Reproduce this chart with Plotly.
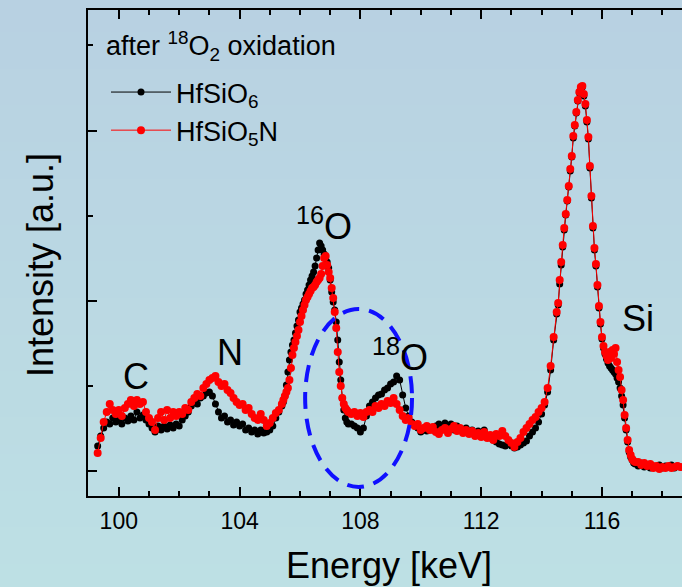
import base64
import struct
import zlib

import numpy as np
import plotly.graph_objects as go

# ---------------- data (energy in keV, intensity in arbitrary counts) ----------------
# energy grid is described per segment: (first energy, step); finer steps on steep peaks
seg_start = [99.3, 105.45, 107.7, 114.55, 117.2]
seg_step = [0.1, 0.05, 0.1, 0.05, 0.1]

# HfSiO6 (black)
hfsio6_s1 = [294, 411, 505, 576, 552, 623, 576, 599, 552, 623,
             588, 646, 599, 693, 623, 658, 599, 552, 505, 458,
             529, 482, 529, 494, 541, 505, 552, 529, 599, 646,
             693, 764, 811, 787, 858, 881, 917, 928, 881, 787,
             693, 623, 646, 576, 599, 541, 576, 529, 552, 482,
             505, 458, 482, 435, 482, 447, 458, 482, 529, 623,
             693, 764]
hfsio6_s2 = [811, 881, 1011, 1163, 1304, 1398, 1481, 1539, 1622, 1704,
             1774, 1868, 1915, 1962, 2009, 2080, 2127, 2186, 2244, 2291,
             2338, 2409, 2503, 2597, 2679, 2644, 2597, 2550, 2503, 2456,
             2385, 2244, 2103, 1986, 1892, 1751, 1539, 1281, 1069, 858,
             717, 623, 576, 552]
hfsio6_s3 = [552, 529, 505, 458, 505, 646, 764, 811, 858, 893,
             905, 952, 975, 1022, 1046, 1116, 1069, 893, 740, 646,
             576, 529, 505, 458, 505, 470, 505, 482, 529, 552,
             529, 564, 505, 552, 482, 529, 482, 458, 505, 458,
             482, 435, 470, 423, 482, 411, 388, 364, 341, 317,
             306, 294, 317, 294, 270, 282, 306, 329, 352, 411,
             458, 505, 576, 670, 776, 928, 1187, 1539, 1845]
hfsio6_s4 = [1951, 2197, 2421, 2632, 2832, 3008, 3173, 3337, 3525, 3690,
             3913, 4054, 4207, 4348, 4442, 4500, 4512, 4406, 4289, 4101,
             3901, 3560, 3208, 2855, 2597, 2409, 2162, 1915, 1727, 1551,
             1445, 1375, 1316, 1269, 1234, 1210, 1187, 1163, 1140, 1093,
             1046, 975, 881, 776, 623, 482, 341, 223, 165, 129,
             94, 82]
hfsio6_s5 = [59, 94, 47, 70, 35, 59, 47, 70, 35, 59, 47, 70, 35, 59, 47]

# HfSiO5N (red)
hfsio5n_s1 = [212, 388, 576, 693, 787, 717, 670, 717, 646, 740,
              787, 834, 764, 834, 787, 811, 693, 623, 576, 482,
              623, 693, 599, 717, 623, 693, 646, 693, 670, 740,
              717, 811, 858, 905, 881, 975, 1022, 1069, 1093, 1116,
              1046, 999, 1022, 952, 917, 858, 811, 776, 787, 717,
              740, 670, 623, 599, 670, 599, 529, 564, 623, 682,
              717, 787]
hfsio5n_s2 = [834, 881, 928, 975, 1069, 1210, 1363, 1445, 1516, 1586,
              1657, 1751, 1821, 1892, 1951, 2009, 2045, 2080, 2115, 2150,
              2162, 2186, 2221, 2244, 2268, 2315, 2409, 2503, 2526, 2421,
              2338, 2268, 2150, 2033, 1868, 1680, 1398, 1163, 999, 858,
              787, 740, 717, 693]
hfsio5n_s3 = [670, 693, 646, 682, 635, 693, 717, 693, 764, 740,
              787, 764, 823, 799, 858, 787, 717, 646, 599, 623,
              552, 529, 552, 482, 505, 529, 482, 517, 458, 435,
              482, 505, 447, 494, 529, 470, 505, 447, 482, 435,
              470, 411, 447, 400, 458, 388, 423, 364, 435, 411,
              470, 411, 364, 329, 282, 341, 388, 458, 505, 552,
              599, 635, 693, 740, 811, 975, 1234, 1575, 1868]
hfsio5n_s4 = [1974, 2244, 2456, 2656, 2855, 3020, 3184, 3349, 3549, 3701,
              3936, 4066, 4218, 4359, 4453, 4512, 4524, 4430, 4312, 4124,
              3925, 3584, 3231, 2879, 2620, 2432, 2186, 1939, 1751, 1575,
              1469, 1398, 1351, 1304, 1398, 1328, 1422, 1375, 1445, 1281,
              1187, 1105, 952, 834, 658, 505, 364, 247, 188, 141,
              118, 106]
hfsio5n_s5 = [106, 71, 94, 59, 82, 35, 59, 24, 47, 35, 59, 35, 47, 59, 47]

series_names = ["HfSiO<sub>6</sub>", "HfSiO<sub>5</sub>N"]
legend_title = "after <sup>18</sup>O<sub>2</sub> oxidation"

peak_labels = ["C", "N", "<sup>16</sup>O", "<sup>18</sup>O", "Si"]
peak_label_x = [100.57, 103.69, 106.8, 109.3, 117.2]
peak_label_y = [1116, 1398, 2900, 1360, 1796]

x_tick_start, x_major_step, x_minor_step = 100, 4, 1
y_major_step, y_minor_step = 2000, 1000


def build(segments):
    xs, ys = [], []
    for start, step, vals in zip(seg_start, seg_step, segments):
        xs.extend(np.round(start + step * np.arange(len(vals)), 3).tolist())
        ys.extend(vals)
    return xs, ys


x6, y6 = build([hfsio6_s1, hfsio6_s2, hfsio6_s3, hfsio6_s4, hfsio6_s5])
x5, y5 = build([hfsio5n_s1, hfsio5n_s2, hfsio5n_s3, hfsio5n_s4, hfsio5n_s5])


# ---------------- background gradient (generated PNG, no network) ----------------
def gradient_png(h, top, bottom):
    raw = b""
    for i in range(h):
        t = i / (h - 1)
        rgb = bytes(round(top[k] + (bottom[k] - top[k]) * t) for k in range(3))
        raw += b"\x00" + rgb + rgb

    def chunk(tag, data):
        return (struct.pack(">I", len(data)) + tag + data
                + struct.pack(">I", zlib.crc32(tag + data) & 0xFFFFFFFF))

    png = (b"\x89PNG\r\n\x1a\n"
           + chunk(b"IHDR", struct.pack(">IIBBBBB", 2, h, 8, 2, 0, 0, 0))
           + chunk(b"IDAT", zlib.compress(raw))
           + chunk(b"IEND", b""))
    return "data:image/png;base64," + base64.b64encode(png).decode()


FONT = "Liberation Sans, Arial, sans-serif"
W, H = 682, 587
ML, MR, MT, MB = 88, 0, 10, 91
PW, PH = W - ML - MR, H - MT - MB

fig = go.Figure()
fig.add_trace(go.Scatter(
    x=x6, y=y6, mode="lines+markers", name=series_names[0],
    line=dict(color="black", width=1),
    marker=dict(color="black", size=7),
))
fig.add_trace(go.Scatter(
    x=x5, y=y5, mode="lines+markers", name=series_names[1],
    line=dict(color="#ff0000", width=1),
    marker=dict(color="#ff0000", size=8),
))

for txt, xx, yy in zip(peak_labels, peak_label_x, peak_label_y):
    fig.add_annotation(x=xx, y=yy, xref="x", yref="y", text=txt, showarrow=False,
                       font=dict(family=FONT, size=36, color="black"),
                       xanchor="center", yanchor="middle")

# dashed ellipse around the 18O region
fig.add_shape(type="circle", xref="x", yref="y",
              x0=106.17, x1=109.71, y0=-188, y1=1904,
              line=dict(color="#1010ff", width=4, dash="17px,10px"))

# legend heading
fig.add_annotation(text=legend_title, xref="paper", yref="paper",
                   x=(104 - ML) / PW, y=(H - MB - 46) / PH, showarrow=False,
                   font=dict(family=FONT, size=27, color="black"),
                   xanchor="left", yanchor="middle")

# axis titles
fig.add_annotation(text="Energy [keV]", xref="paper", yref="paper",
                   x=(389 - ML) / PW, y=(H - MB - 565) / PH, showarrow=False,
                   font=dict(family=FONT, size=36, color="black"),
                   xanchor="center", yanchor="middle")
fig.add_annotation(text="Intensity [a.u.]", xref="paper", yref="paper",
                   x=(40 - ML) / PW, y=(H - MB - 265) / PH, showarrow=False,
                   textangle=-90,
                   font=dict(family=FONT, size=36, color="black"),
                   xanchor="center", yanchor="middle")

fig.add_layout_image(dict(
    source=gradient_png(64, (184, 209, 226), (189, 224, 228)),
    xref="paper", yref="paper", x=-ML / PW, y=1 + MT / PH,
    sizex=W / PW, sizey=H / PH, xanchor="left", yanchor="top",
    sizing="stretch", layer="below",
))

fig.update_xaxes(
    range=[98.98, 118.65], showgrid=False, zeroline=False,
    showline=True, linecolor="black", linewidth=2, mirror="ticks",
    ticks="inside", ticklen=9, tickwidth=2, tickcolor="black",
    tick0=x_tick_start, dtick=x_major_step,
    minor=dict(ticks="inside", ticklen=5, tickwidth=2, tickcolor="black",
               tick0=x_tick_start, dtick=x_minor_step),
    tickfont=dict(family=FONT, size=23, color="black"),
    ticklabelstandoff=3,
)
fig.update_yaxes(
    range=[-294, 5417], showgrid=False, zeroline=False,
    showline=True, linecolor="black", linewidth=2,
    ticks="inside", ticklen=9, tickwidth=2, tickcolor="black",
    tick0=0, dtick=y_major_step,
    minor=dict(ticks="inside", ticklen=5, tickwidth=2, tickcolor="black",
               tick0=0, dtick=y_minor_step),
    showticklabels=False,
)

fig.update_layout(
    width=W, height=H, autosize=False,
    margin=dict(l=ML, r=MR, t=MT, b=MB, pad=0),
    paper_bgcolor="#bbd9e3", plot_bgcolor="rgba(0,0,0,0)",
    font=dict(family=FONT, color="black"),
    showlegend=True,
    legend=dict(
        font=dict(family=FONT, size=27, color="black"),
        x=(106 - ML) / PW, y=(H - MB - 68) / PH, xanchor="left", yanchor="top",
        itemwidth=60,
        bgcolor="rgba(0,0,0,0)", borderwidth=0, tracegroupgap=0,
    ),
)

fig.write_html("out.html", config={"displayModeBar": False},
               post_script="document.body.style.margin='0px';")
